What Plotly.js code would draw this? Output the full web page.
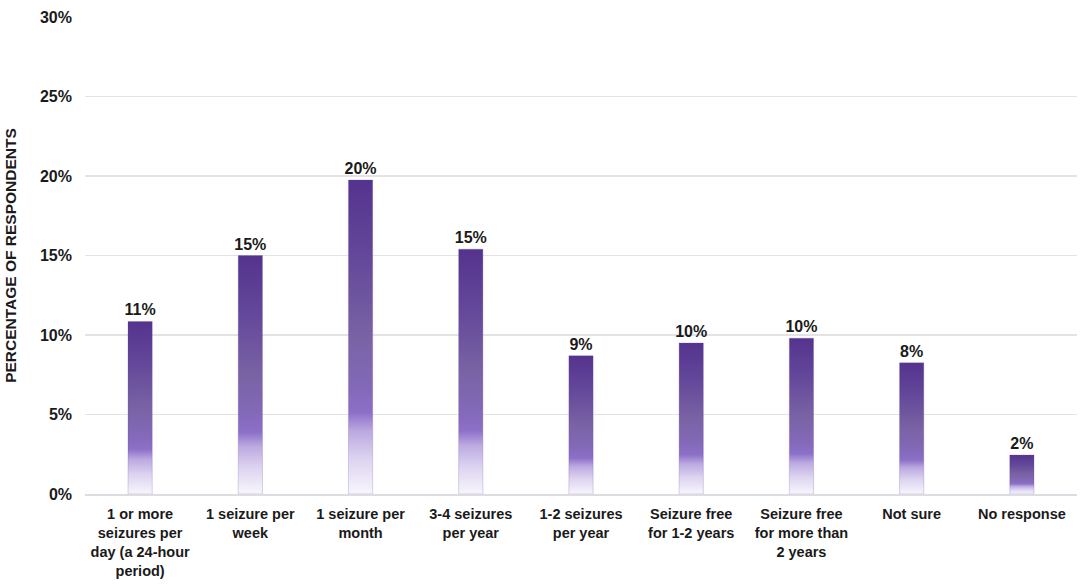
<!DOCTYPE html>
<html>
<head>
<meta charset="utf-8">
<script src="https://cdn.plot.ly/plotly-3.0.1.min.js"></script>
<style>
  html, body { margin: 0; padding: 0; background: #fff; }
  #chart { width: 1084px; height: 585px; }
</style>
</head>
<body>
<div id="chart"></div>
<script>
// categories and values
let categories = [
    "1 or more<br>seizures per<br>day (a 24-hour<br>period)",
    "1 seizure per<br>week",
    "1 seizure per<br>month",
    "3-4 seizures<br>per year",
    "1-2 seizures<br>per year",
    "Seizure free<br>for 1-2 years",
    "Seizure free<br>for more than<br>2 years",
    "Not sure",
    "No response"
];
let percentages = [10.85, 15.0, 19.75, 15.4, 8.7, 9.5, 9.8, 8.25, 2.45];
let barLabels = ["11%", "15%", "20%", "15%", "9%", "10%", "10%", "8%", "2%"];

let chartDiv = document.getElementById('chart');
let baseFont = "Liberation Sans, Arial, sans-serif";

let trace1 = {
    type: "bar",
    x: categories,
    y: percentages,
    text: barLabels,
    textposition: "outside",
    constraintext: "none",
    cliponaxis: false,
    textfont: { family: baseFont, size: 16, color: "#1a1a1a", weight: "bold" },
    marker: {
        color: "#6a4ea8",
        line: { color: "rgba(110,80,170,0.35)", width: 0.7 }
    },
    hoverinfo: "none"
};

let layout1 = {
    width: 1084,
    height: 585,
    margin: { l: 85, r: 7, t: 17, b: 91 },
    paper_bgcolor: "#ffffff",
    plot_bgcolor: "#ffffff",
    bargap: 0.78,
    showlegend: false,
    font: { family: baseFont, size: 14.5, color: "#1a1a1a" },
    xaxis: {
        showgrid: false,
        showline: true,
        linecolor: "#dcdce2",
        linewidth: 2,
        ticks: "",
        tickangle: 0,
        ticklabelstandoff: 6,
        tickfont: { family: baseFont, size: 14.5, color: "#1a1a1a", weight: "bold" },
        automargin: false
    },
    yaxis: {
        range: [0, 30],
        dtick: 5,
        ticksuffix: "%",
        showgrid: true,
        gridcolor: "#e3e3e3",
        gridwidth: 1.3,
        zeroline: false,
        showline: false,
        ticks: "",
        ticklabelstandoff: 12,
        tickfont: { family: baseFont, size: 16, color: "#1a1a1a", weight: "bold" },
        title: {
            text: "PERCENTAGE OF RESPONDENTS",
            font: { family: baseFont, size: 15.5, color: "#1a1a1a", weight: "bold" },
            standoff: 19
        },
        automargin: false
    }
};

Plotly.newPlot(chartDiv, [trace1], layout1, { displayModeBar: false, staticPlot: true }).then(function () {
    // bars fade from dark purple at the top to white at the base
    let svg = chartDiv.querySelector('.main-svg');
    let defs = svg.querySelector('defs');
    let ns = "http://www.w3.org/2000/svg";
    let grad = document.createElementNS(ns, "linearGradient");
    grad.setAttribute("id", "barFade");
    grad.setAttribute("x1", "0");
    grad.setAttribute("y1", "0");
    grad.setAttribute("x2", "0");
    grad.setAttribute("y2", "1");
    let stops = [
        [0.00, "#54338e"],
        [0.25, "#64489a"],
        [0.50, "#7963a4"],
        [0.66, "#8369b8"],
        [0.74, "#8c6fc8"],
        [0.80, "#bba9e0"],
        [0.89, "#ddd4f0"],
        [1.00, "#f8f6fc"]
    ];
    stops.forEach(function (s) {
        let st = document.createElementNS(ns, "stop");
        st.setAttribute("offset", s[0]);
        st.setAttribute("stop-color", s[1]);
        grad.appendChild(st);
    });
    defs.appendChild(grad);
    chartDiv.querySelectorAll('.bars .point path').forEach(function (p) {
        p.style.fill = "url(#barFade)";
    });
});
</script>
</body>
</html>
